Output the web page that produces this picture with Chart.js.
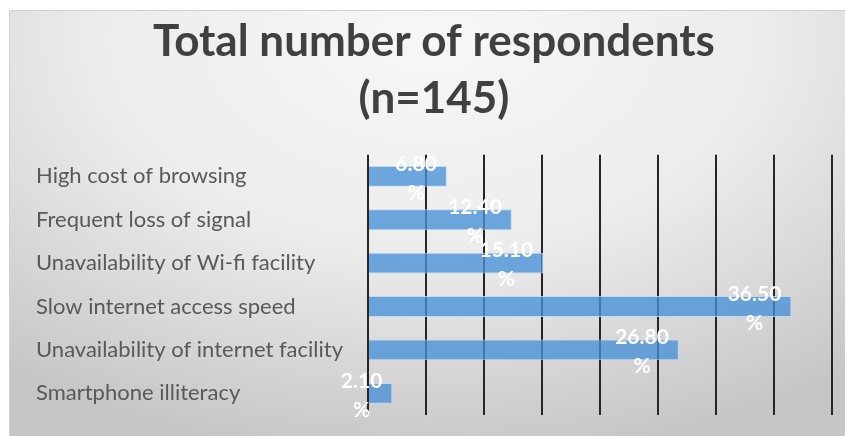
<!DOCTYPE html>
<html>
<head>
<meta charset="utf-8">
<script src="https://cdn.jsdelivr.net/npm/chart.js@4.4.1/dist/chart.umd.min.js"></script>
<style>
  html, body { margin: 0; padding: 0; background: #ffffff; }
  #wrap { width: 846px; height: 436px; position: relative; }
</style>
</head>
<body>
<div id="wrap"><canvas id="chart" width="846" height="436"></canvas></div>
<script>
// Reasons for poor internet use, share of respondents (%)
const categories = [
  'High cost of browsing',
  'Frequent loss of signal',
  'Unavailability of Wi-fi facility',
  'Slow internet access speed',
  'Unavailability of internet facility',
  'Smartphone illiteracy'
];
const percentages = [6.80, 12.40, 15.10, 36.50, 26.80, 2.10];
const titleLines = ['Total number of respondents', '(n=145)'];

// Grey panel with a soft radial highlight behind the title
const panelBackground = {
  id: 'panelBackground',
  beforeDraw(chart) {
    const ctx = chart.ctx;
    ctx.save();
    ctx.fillStyle = '#ffffff';
    ctx.fillRect(0, 0, chart.width, chart.height);
    ctx.beginPath();
    ctx.rect(9, 10, 836, 426);
    ctx.clip();
    ctx.translate(430, 40);
    ctx.scale(1.6, 1);
    const g = ctx.createRadialGradient(0, 0, 0, 0, 0, 420);
    g.addColorStop(0, '#f7f7f7');
    g.addColorStop(0.5, '#ececec');
    g.addColorStop(1, '#c6c6c6');
    ctx.fillStyle = g;
    ctx.fillRect(-300, -60, 600, 500);
    ctx.restore();
    ctx.save();
    ctx.strokeStyle = '#d2d2d2';
    ctx.lineWidth = 1;
    ctx.beginPath();
    ctx.moveTo(9.5, 436);
    ctx.lineTo(9.5, 10.5);
    ctx.lineTo(845, 10.5);
    ctx.stroke();
    ctx.restore();
  }
};

// Two-line value labels ("6.80" over "%") tucked inside the bar end
const valueLabels = {
  id: 'valueLabels',
  afterDatasetsDraw(chart) {
    const ctx = chart.ctx;
    const meta = chart.getDatasetMeta(0);
    ctx.save();
    ctx.font = 'bold 21px Lato, "Noto Sans", sans-serif';
    ctx.fillStyle = '#ffffff';
    ctx.textAlign = 'center';
    ctx.textBaseline = 'middle';
    meta.data.forEach((bar, i) => {
      const lines = [percentages[i].toFixed(2), '%'];
      const w = Math.max(...lines.map(t => ctx.measureText(t).width));
      const cx = bar.x - 10 - w / 2;
      const cy = bar.y + 2;
      ctx.fillText(lines[0], cx, cy - 14.5);
      ctx.fillText(lines[1], cx, cy + 14.5);
    });
    ctx.restore();
  }
};

new Chart(document.getElementById('chart'), {
  type: 'bar',
  data: {
    labels: categories,
    datasets: [{
      data: percentages,
      backgroundColor: 'rgba(70,145,215,0.78)',
      borderColor: 'rgba(190,215,240,0.9)',
      borderWidth: 1,
      categoryPercentage: 1,
      barPercentage: 0.48
    }]
  },
  options: {
    indexAxis: 'y',
    responsive: false,
    animation: false,
    devicePixelRatio: 1,
    layout: { padding: { left: 36, right: 14, top: 0, bottom: 21 } },
    plugins: {
      legend: { display: false },
      tooltip: { enabled: false },
      title: {
        display: true,
        text: titleLines,
        color: '#404040',
        font: { family: 'Lato, "Noto Sans", sans-serif', size: 44, weight: 'bold', lineHeight: 1.28 },
        padding: { top: 14, bottom: 28 }
      }
    },
    scales: {
      x: {
        min: 0,
        max: 40,
        ticks: { display: false, stepSize: 5 },
        grid: { color: '#262626', lineWidth: 2, drawTicks: false },
        border: { display: false }
      },
      y: {
        afterFit(scale) { scale.width = 332; },
        ticks: {
          crossAlign: 'far',
          color: '#595959',
          font: { family: 'Lato, "Noto Sans", sans-serif', size: 22 }
        },
        grid: { display: false },
        border: { display: false }
      }
    }
  },
  plugins: [panelBackground, valueLabels]
});
</script>
</body>
</html>
